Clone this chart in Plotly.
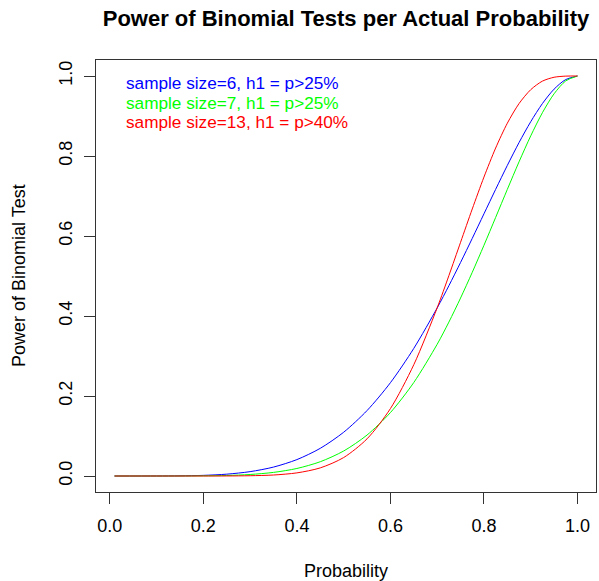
import plotly.graph_objects as go

# Probability values (x) and power values
prob = [0.01, 0.10, 0.15, 0.20, 0.25, 0.30, 0.35, 0.40, 0.45, 0.50, 0.55, 0.60,
        0.65, 0.70, 0.725, 0.75, 0.775, 0.80, 0.825, 0.85, 0.875, 0.90, 0.925,
        0.95, 0.975, 1.00]
power_n6 = [0.0, 0.00006, 0.0004, 0.0016, 0.0046, 0.0109, 0.0223, 0.0410, 0.0692,
            0.1094, 0.1636, 0.2333, 0.3191, 0.4202, 0.4757, 0.5339, 0.5941, 0.6554,
            0.7166, 0.7765, 0.8335, 0.8857, 0.9311, 0.9672, 0.9912, 1.0]
power_n7 = [0.0, 0.00001, 0.00007, 0.0004, 0.0013, 0.0038, 0.0090, 0.0188, 0.0357,
            0.0625, 0.1024, 0.1586, 0.2338, 0.3294, 0.3848, 0.4450, 0.5092, 0.5767,
            0.6464, 0.7166, 0.7854, 0.8503, 0.9083, 0.9556, 0.9879, 1.0]
power_n13 = [0.0, 0.0, 0.0, 0.00002, 0.0001, 0.0007, 0.0025, 0.0078, 0.0203,
             0.0461, 0.0929, 0.1686, 0.2783, 0.4206, 0.5009, 0.5843, 0.6676, 0.7473,
             0.8199, 0.8820, 0.9310, 0.9658, 0.9872, 0.9969, 0.9997, 1.0]

legend_labels = ["sample size=6, h1 = p>25%", "sample size=7, h1 = p>25%",
                 "sample size=13, h1 = p>40%"]
colors = ["#0000FF", "#00FF00", "#FF0000"]
x_ticks = [0.0, 0.2, 0.4, 0.6, 0.8, 1.0]
y_ticks = [0.0, 0.2, 0.4, 0.6, 0.8, 1.0]

font = "Liberation Sans, Arial, sans-serif"

W, H = 599, 581
L, R, T, B = 96, 3, 60, 89
pw, ph = W - L - R, H - T - B


def px_x(x):
    return (x - L) / pw


def px_y(y):
    return 1 - (y - T) / ph


fig = go.Figure()
for ys, c, name in zip([power_n6, power_n7, power_n13], colors, legend_labels):
    fig.add_trace(go.Scatter(x=prob, y=ys, mode="lines", name=name,
                             line=dict(color=c, width=1, shape="spline", smoothing=0.8)))

for i, (lab, c) in enumerate(zip(legend_labels, colors)):
    fig.add_annotation(x=px_x(124), y=px_y(83 + 19.5 * i), xref="paper", yref="paper",
                       text=lab, showarrow=False,
                       font=dict(color=c, size=17.2, family=font),
                       xanchor="left", yanchor="middle")

fig.add_annotation(x=px_x(346), y=px_y(571), xref="paper", yref="paper",
                   text="Probability", showarrow=False,
                   font=dict(size=18, family=font, color="black"),
                   xanchor="center", yanchor="middle")
fig.add_annotation(x=px_x(19), y=px_y(276), xref="paper", yref="paper",
                   text="Power of Binomial Test", showarrow=False, textangle=-90,
                   font=dict(size=18, family=font, color="black"),
                   xanchor="center", yanchor="middle")

fig.update_layout(
    width=W, height=H,
    margin=dict(l=L, r=R, t=T, b=B, autoexpand=False),
    paper_bgcolor="white", plot_bgcolor="white",
    showlegend=False,
    font=dict(family=font, size=18, color="black"),
    title=dict(text="<b>Power of Binomial Tests per Actual Probability</b>",
               x=(L + pw / 2) / W, xanchor="center", y=1 - 18 / H, yanchor="middle",
               font=dict(size=22, family=font, color="black")),
    xaxis=dict(range=[-0.0296, 1.0396], tickvals=x_ticks,
               ticktext=[f"{v:.1f}" for v in x_ticks], automargin=False,
               showgrid=False, zeroline=False, showline=True, mirror=True,
               linecolor="#333333", linewidth=1, ticks="outside", ticklen=11,
               tickcolor="#333333", tickfont=dict(size=18), ticklabelstandoff=6),
    yaxis=dict(range=[-0.04, 1.04], tickvals=y_ticks,
               ticktext=[f"{v:.1f}" for v in y_ticks], tickangle=-90, automargin=False,
               showgrid=False, zeroline=False, showline=True, mirror=True,
               linecolor="#333333", linewidth=1, ticks="outside", ticklen=11,
               tickcolor="#333333", tickfont=dict(size=18), ticklabelstandoff=5),
)

fig.write_html("out.html", config={"displayModeBar": False},
               post_script="document.body.style.margin='0';document.body.style.overflow='hidden';")
